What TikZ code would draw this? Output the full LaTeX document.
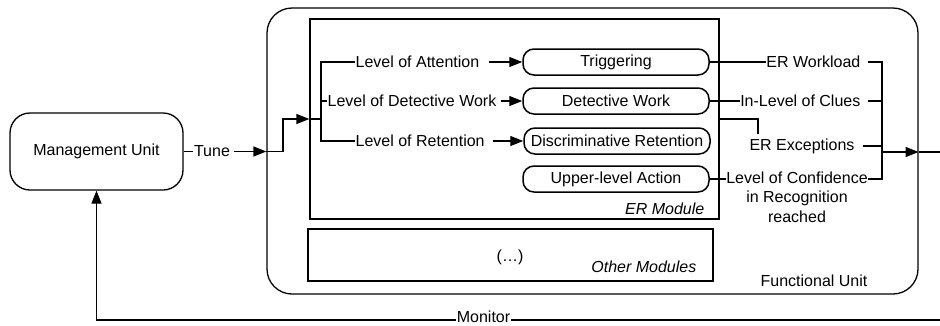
\documentclass[tikz,border=0pt]{standalone}
\usepackage{fontspec}
\setmainfont{Liberation Sans}
\usetikzlibrary{arrows.meta}
\newcommand{\dsize}{\fontsize{16}{19.5}\selectfont}
\begin{document}
\begin{tikzpicture}[x=1pt,y=-1pt, font=\dsize, line width=1.3pt,
  arr/.style={-{Triangle[length=13pt,width=10pt]}},
  lbl/.style={inner sep=0pt},
  sub/.style={draw, line width=1.5pt, rounded corners=11pt, minimum width=186pt, minimum height=26pt, inner sep=0pt}]
\useasboundingbox (0,0) rectangle (940,325);
% containers
\node[draw, rounded corners=25pt, minimum width=651pt, minimum height=286pt] (FU) at (592.5,151) {};
\node[draw, minimum width=409pt, minimum height=200pt] (ER) at (514.5,119) {};
\node[draw, minimum width=405pt, minimum height=52pt] (OM) at (510.5,255) {};
\node[draw, rounded corners=20pt, minimum width=173pt, minimum height=77pt] (MU) at (96.5,151.5) {Management Unit};
% sub modules
\node[sub] (trig) at (616,62) {Triggering};
\node[sub] (det) at (616,101) {Detective Work};
\node[sub] (dr) at (617,141) {Discriminative Retention};
\node[sub] (up) at (616,179) {Upper-level Action};
% labels inside
\node[lbl, anchor=east, font=\dsize\itshape] (erl) at (705,209) {ER Module};
\node[lbl, anchor=east, font=\dsize\itshape] (oml) at (697,267) {Other Modules};
\node[lbl] (dots) at (510,257) {(…)};
\node[lbl, anchor=west] (ful) at (760,281) {Functional Unit};
% input labels
\node[lbl, anchor=west] (attn) at (355,62) {Level of Attention};
\node[lbl, anchor=west] (ldw) at (327,101) {Level of Detective Work};
\node[lbl, anchor=west] (lret) at (355,141) {Level of Retention};
% tune
\node[lbl] (tune) at (212,151.5) {Tune};
\draw (MU.east) -- (tune.west);
\draw[arr] ([xshift=3pt]tune.east) -- (tune.east -| FU.west);
\coordinate (tj) at (283,151.5);
\draw[arr] (tune.east -| FU.west) -- (tj) |- (ER.west);
% input bus
\coordinate (bin) at (321,119);
\coordinate (btop) at (321,62);
\coordinate (bbot) at (321,141);
\draw (ER.west) -- (bin);
\draw (attn.west) -- (btop) -- (bbot) -- (lret.west);
\draw (ldw.west) -- (ldw.west -| btop);
\draw[arr] ([xshift=9pt]attn.east) -- (trig.west);
\draw[arr] ([xshift=4pt]ldw.east) -- (det.west);
\draw[arr] ([xshift=8pt]lret.east) -- (dr.west);
% output labels
\node[lbl, anchor=east] (wl) at (861,62) {ER Workload};
\node[lbl, anchor=east] (clues) at (861,101) {In-Level of Clues};
\node[lbl] (exc) at (802,146) {ER Exceptions};
\node[lbl, align=center, anchor=north] (conf) at (797,171) {Level of Confidence\\in Recognition\\reached};
% output bus
\coordinate (rtop) at (882,62);
\coordinate (rbot) at (882,179);
\draw (trig.east) -- (wl.west);
\draw (det.east) -- (clues.west);
\draw (up.east) -- (up.east -| conf.west);
\draw ([xshift=7pt]wl.east) -- (rtop) -- (rbot) -- (rbot -| conf.east);
\draw ([xshift=7pt]clues.east) -- (clues.east -| rtop);
\coordinate (ex1) at (758,119);
\coordinate (ex2) at (758,134);
\draw (ER.east |- ex1) -- (ex1) -- (ex2);
\draw ([xshift=8pt]exc.east) -- (exc.east -| rtop);
\coordinate (out) at (882,152);
\coordinate (edgeR) at (940,152);
\draw[arr] (out) -- (out -| FU.east);
\draw (out -| FU.east) -- (edgeR);
% monitor
\coordinate (edgeM) at (940,320);
\node[lbl, anchor=mid] (mon) at (483.5,320) {Monitor};
\draw (edgeM) -- (mon.mid east);
\draw[arr] (mon.mid west) -- (mon.mid west -| MU.south) -- (MU.south);
\end{tikzpicture}
\end{document}
